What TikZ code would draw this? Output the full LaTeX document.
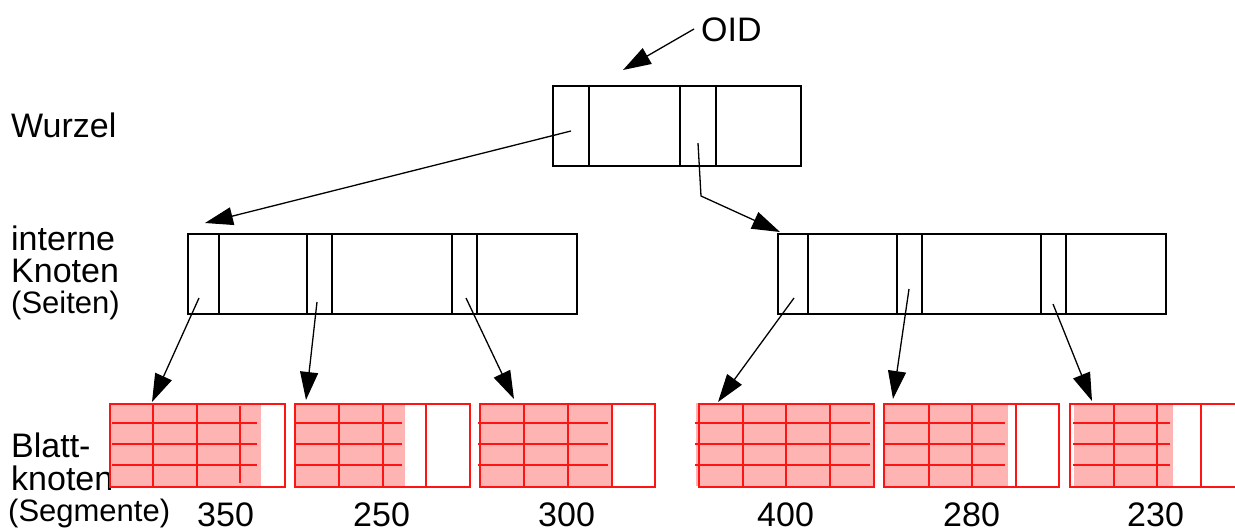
\documentclass[tikz,border=0pt]{standalone}
\usepackage{fontspec}
\setmainfont{Liberation Sans}
\usetikzlibrary{arrows.meta}
\definecolor{leafred}{RGB}{255,20,20}
\definecolor{leaffill}{RGB}{255,180,180}
\tikzset{
  boxnode/.style={draw=black, line width=1.6pt, inner sep=0pt, anchor=north west},
  leafnode/.style={draw=leafred, line width=1.5pt, inner sep=0pt, anchor=north west, minimum width=175pt, minimum height=83pt},
  cellline/.style={draw=black, line width=1.6pt},
  gridline/.style={draw=leafred, line width=1.5pt},
  leaffillstyle/.style={fill=leaffill},
  arr/.style={draw=black, line width=1.3pt, -{Triangle[length=28pt,width=18pt]}},
  lbl/.style={anchor=base west, inner sep=0pt, font=\fontsize{34}{34}\selectfont},
  smalllbl/.style={anchor=base west, inner sep=0pt, font=\fontsize{31}{31}\selectfont}
}
\begin{document}
\begin{tikzpicture}[x=1pt,y=-1pt]
\useasboundingbox (0,0) rectangle (1235,532);

% labels
\node[lbl] (oid) at (701,42) {OID};
\node[lbl] (wurzel) at (11,138) {Wurzel};
\node[lbl] (int1) at (11,250) {interne};
\node[lbl] (int2) at (11,282) {Knoten};
\node[smalllbl] (int3) at (11,313) {(Seiten)};
\node[lbl] (bl1) at (11,457) {Blatt-};
\node[lbl] (bl2) at (11,490) {knoten};
\node[smalllbl] (bl3) at (8,521) {(Segmente)};

% root and internal nodes
\node[boxnode, minimum width=248pt, minimum height=80pt] (root) at (552,85) {};
\foreach \x in {589,680,716} \draw[cellline] (\x,85) -- (\x,165);
\node[boxnode, minimum width=389pt, minimum height=80pt] (inl) at (187,233) {};
\foreach \x in {219,307,332,452,477} \draw[cellline] (\x,233) -- (\x,313);
\node[boxnode, minimum width=388pt, minimum height=80pt] (inr) at (777,233) {};
\foreach \x in {808,897,922,1041,1066} \draw[cellline] (\x,233) -- (\x,313);

% leaf fills
\fill[leaffillstyle] (109,403) rectangle (261,486);
\fill[leaffillstyle] (294,403) rectangle (405,486);
\fill[leaffillstyle] (479,403) rectangle (612,486);
\fill[leaffillstyle] (696,403) rectangle (873,486);
\fill[leaffillstyle] (883,403) rectangle (1008,486);
\fill[leaffillstyle] (1074,403) rectangle (1173,486);

% grid lines
\foreach \y in {423,444,465} {
  \draw[gridline] (112,\y) -- (257,\y);
  \draw[gridline] (294,\y) -- (402,\y);
  \draw[gridline] (478,\y) -- (608,\y);
  \draw[gridline] (695,\y) -- (870,\y);
  \draw[gridline] (883,\y) -- (1005,\y);
  \draw[gridline] (1073,\y) -- (1170,\y);
}
\foreach \x in {153,197,339,383,426,524,568,612,743,786,830,929,972,1016,1114,1157,1201}
  \draw[gridline] (\x,403) -- (\x,486);
\draw[gridline] (240,406) -- (240,483);

% leaf nodes
\node[leafnode] (l1) at (109,403) {};
\node[leafnode] (l2) at (294,403) {};
\node[leafnode] (l3) at (479,403) {};
\node[leafnode] (l4) at (698,403) {};
\node[leafnode] (l5) at (883,403) {};
\node[leafnode] (l6) at (1069,403) {};

% leaf sizes
\node[lbl] (n1) at (197,526) {350};
\node[lbl] (n2) at (353,526) {250};
\node[lbl] (n3) at (538,526) {300};
\node[lbl] (n4) at (757,526) {400};
\node[lbl] (n5) at (943,526) {280};
\node[lbl] (n6) at (1127,526) {230};

% connector coordinates
\coordinate (oidS) at (694,29);
\coordinate (oidT) at (623,70);
\coordinate (r1) at (571,131);
\coordinate (r1T) at (205,223);
\coordinate (r2) at (698,143);
\coordinate (r2B) at (701,196);
\coordinate (r2T) at (780,232);
\coordinate (a1) at (199,298);
\coordinate (a1T) at (152,402);
\coordinate (a2) at (317,302);
\coordinate (a2T) at (306,400);
\coordinate (a3) at (466,298);
\coordinate (a3T) at (514,399);
\coordinate (b1) at (794,298);
\coordinate (b1T) at (718,402);
\coordinate (b2) at (909,289);
\coordinate (b2T) at (893,399);
\coordinate (b3) at (1053,304);
\coordinate (b3T) at (1092,401);

% connectors
\draw[arr] (oidS) -- (oidT);
\draw[arr] (r1) -- (r1T);
\draw[arr] (r2) -- (r2B) -- (r2T);
\draw[arr] (a1) -- (a1T);
\draw[arr] (a2) -- (a2T);
\draw[arr] (a3) -- (a3T);
\draw[arr] (b1) -- (b1T);
\draw[arr] (b2) -- (b2T);
\draw[arr] (b3) -- (b3T);
\end{tikzpicture}
\end{document}
